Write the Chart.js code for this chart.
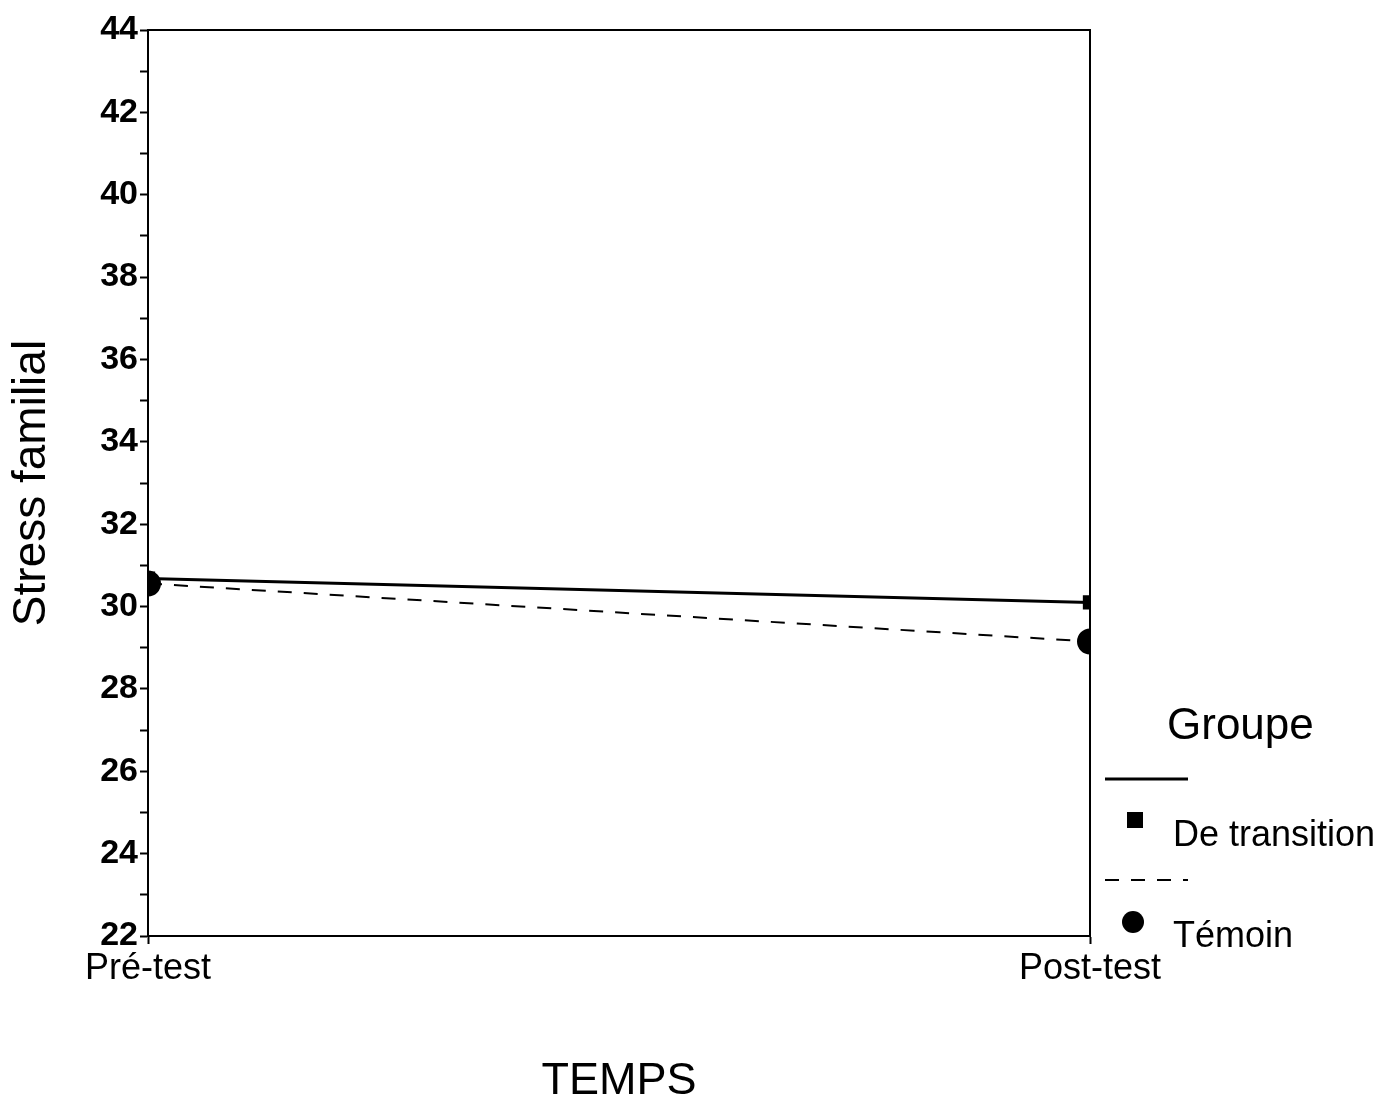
<!DOCTYPE html>
<html><head><meta charset="utf-8">
<script src="https://cdn.jsdelivr.net/npm/chart.js@4/dist/chart.umd.min.js"></script>
<style>html,body{margin:0;padding:0;background:#fff}#wrap{width:1396px;height:1105px}</style>
</head><body><div id="wrap"><canvas id="c" width="1396" height="1105"></canvas></div>
<script>
const categories = ['Pré-test', 'Post-test'];
const deTransition = [30.68, 30.1];
const temoin = [30.56, 29.15];
const seriesNames = ['De transition', 'Témoin'];
const yLabels = [22, 24, 26, 28, 30, 32, 34, 36, 38, 40, 42, 44];
const legendTitle = 'Groupe';
const xTitle = 'TEMPS';
const yTitle = 'Stress familial';

const FONT = "'Liberation Sans', Arial, sans-serif";

const framePlugin = {
  id: 'frame',
  afterDraw(chart) {
    const {ctx, chartArea: a} = chart;
    ctx.save();
    ctx.strokeStyle = '#000';
    ctx.lineWidth = 2;
    ctx.beginPath();
    ctx.moveTo(a.left, a.top); ctx.lineTo(a.right, a.top); ctx.lineTo(a.right, a.bottom);
    ctx.stroke();
    ctx.restore();
  }
};

const legendPlugin = {
  id: 'customLegend',
  afterDraw(chart) {
    const {ctx, chartArea: a} = chart;
    const x0 = a.right + 15;
    ctx.save();
    ctx.fillStyle = '#000';
    ctx.strokeStyle = '#000';
    ctx.textBaseline = 'middle';
    ctx.font = '44px ' + FONT;
    ctx.textAlign = 'left';
    ctx.fillText(legendTitle, x0 + 62, 727);
    ctx.font = '36px ' + FONT;
    chart.data.datasets.forEach((ds, i) => {
      const ly = 779 + i * 101;
      ctx.lineWidth = ds.borderWidth;
      ctx.setLineDash(ds.borderDash || []);
      ctx.beginPath(); ctx.moveTo(x0, ly); ctx.lineTo(x0 + 83, ly); ctx.stroke();
      ctx.setLineDash([]);
      const my = ly + 42;
      if (ds.pointStyle === 'rect') {
        ctx.fillRect(x0 + 22, my - 9, 16, 16);
      } else {
        ctx.beginPath(); ctx.arc(x0 + 28, my, 11, 0, Math.PI * 2); ctx.fill();
      }
      ctx.fillText(ds.label, x0 + 68, my + 15);
    });
    ctx.restore();
  }
};

new Chart(document.getElementById('c'), {
  type: 'line',
  data: {
    labels: categories,
    datasets: [
      {label: seriesNames[0], data: deTransition, borderColor: '#000', backgroundColor: '#000',
       borderWidth: 3, pointStyle: 'rect', pointRadius: 8, pointBackgroundColor: '#000', order: 1,
       clip: {left: 0, right: 0, top: false, bottom: false}},
      {label: seriesNames[1], data: temoin, borderColor: '#000', backgroundColor: '#000',
       borderWidth: 2, borderDash: [14, 12], pointStyle: 'circle', pointRadius: 12,
       pointBackgroundColor: '#000', order: 0,
       clip: {left: 0, right: 0, top: false, bottom: false}}
    ]
  },
  options: {
    responsive: false,
    animation: false,
    layout: {padding: {top: 30, right: 306, left: 0, bottom: 0}},
    plugins: {legend: {display: false}, tooltip: {enabled: false}},
    scales: {
      x: {
        type: 'category',
        offset: false,
        grid: {drawOnChartArea: false, drawTicks: true, tickLength: 8, color: '#000',
               tickWidth: 2},
        border: {color: '#000', width: 2},
        ticks: {color: '#000', font: {family: FONT, size: 36}, padding: 3, maxRotation: 0},
        title: {display: true, text: xTitle, color: '#000',
                font: {family: FONT, size: 45, lineHeight: 1}, padding: {top: 0, bottom: 1}},
        afterFit(s) { s.height = 169; }
      },
      y: {
        min: 22, max: 44,
        grid: {drawOnChartArea: false, drawTicks: true, tickLength: 8, color: '#000', tickWidth: 2},
        border: {color: '#000', width: 2},
        ticks: {
          stepSize: 1, autoSkip: false, color: '#000', padding: 2,
          font: {family: FONT, size: 34, weight: 'bold'},
          callback: (v) => yLabels.includes(v) ? String(v) : ''
        },
        title: {display: true, text: yTitle, color: '#000',
                font: {family: FONT, size: 46, lineHeight: 1.2}, padding: {top: 5, bottom: 0}},
        afterFit(s) { s.width = 148; }
      }
    }
  },
  plugins: [framePlugin, legendPlugin]
});
</script></body></html>
